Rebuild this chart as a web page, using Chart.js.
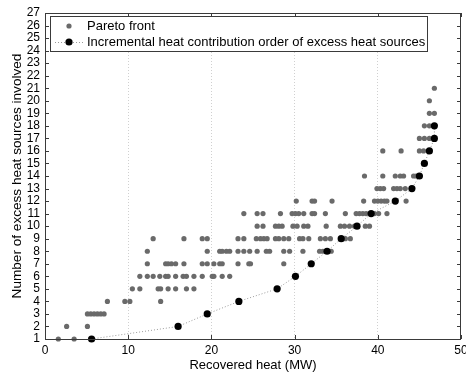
<!DOCTYPE html>
<html>
<head>
<meta charset="utf-8">
<script src="https://cdn.jsdelivr.net/npm/chart.js@4.4.1/dist/chart.umd.min.js"></script>
<style>
  html, body { margin: 0; padding: 0; background: #fff; }
  #wrap { width: 466px; height: 374px; }
</style>
</head>
<body>
<div id="wrap"><canvas id="myChart" width="466" height="374"></canvas></div>
<script>
// Pareto front solutions: recovered heat (MW) and number of sources used
const paretoHeat = [
  1.6, 3.5,
  2.6, 5.1,
  5.1, 5.5, 5.9, 6.3, 6.7, 7.1,
  7.5, 9.6, 10.2, 13.9,
  10.5, 11.4, 13.6, 13.9, 14.8, 15.7, 17.0, 17.9,
  11.4, 12.3, 13.0, 13.8, 14.5, 14.8, 15.7, 16.6, 17.0, 17.9, 18.9, 20.1, 20.3, 21.3, 22.2,
  12.3, 14.5, 14.8, 15.2, 15.7, 16.7, 18.9, 19.5, 20.3, 21.0, 21.3, 23.2, 24.5, 24.7, 28.7,
  12.3, 19.5, 21.0, 21.3, 21.8, 22.2, 23.2, 23.9, 24.6, 25.5, 26.6, 27.0, 28.7, 29.4, 31.0, 33.0, 33.4, 34.4,
  13.0, 16.7, 18.9, 19.5, 23.2, 23.9, 25.4, 25.9, 26.3, 26.7, 27.7, 28.1, 28.7, 29.3, 30.6, 31.0, 31.7, 33.1, 33.7, 34.3, 36.1, 36.7,
  25.5, 26.2, 27.7, 28.1, 28.5, 29.8, 30.3, 31.1, 31.6, 33.8, 35.5, 36.0, 36.6, 37.2, 38.5, 39.0,
  23.9, 25.5, 26.2, 28.3, 29.7, 30.1, 30.5, 31.1, 32.1, 32.4, 33.7, 36.1, 37.4, 37.8, 38.2, 38.6, 39.6, 40.1, 41.1,
  30.2, 32.1, 32.4, 34.5, 38.3, 39.6, 40.0, 40.4, 40.8, 41.1, 43.4,
  39.9, 40.3, 40.7, 41.9, 42.3, 42.7, 43.3,
  38.4, 40.6, 42.1, 42.7, 43.1, 44.3, 44.6,
  40.6, 42.8, 45.0, 45.5,
  45.0, 45.6, 46.2,
  45.6, 46.2,
  46.2, 46.8,
  46.2,
  46.8
];
const paretoSources = [
  1, 1,
  2, 2,
  3, 3, 3, 3, 3, 3,
  4, 4, 4, 4,
  5, 5, 5, 5, 5, 5, 5, 5,
  6, 6, 6, 6, 6, 6, 6, 6, 6, 6, 6, 6, 6, 6, 6,
  7, 7, 7, 7, 7, 7, 7, 7, 7, 7, 7, 7, 7, 7, 7,
  8, 8, 8, 8, 8, 8, 8, 8, 8, 8, 8, 8, 8, 8, 8, 8, 8, 8,
  9, 9, 9, 9, 9, 9, 9, 9, 9, 9, 9, 9, 9, 9, 9, 9, 9, 9, 9, 9, 9, 9,
  10, 10, 10, 10, 10, 10, 10, 10, 10, 10, 10, 10, 10, 10, 10, 10,
  11, 11, 11, 11, 11, 11, 11, 11, 11, 11, 11, 11, 11, 11, 11, 11, 11, 11, 11,
  12, 12, 12, 12, 12, 12, 12, 12, 12, 12, 12,
  13, 13, 13, 13, 13, 13, 13,
  14, 14, 14, 14, 14, 14, 14,
  16, 16, 16, 16,
  17, 17, 17,
  18, 18,
  19, 19,
  20,
  21
];

// sources added one by one in order of their heat contribution
const incrementalHeat = [5.6, 16.0, 19.5, 23.3, 27.9, 30.1, 32.0, 33.9, 35.6, 37.5, 39.2, 42.1, 44.1, 45.0, 45.6, 46.2, 46.8, 46.8];
const incrementalSources = [1, 2, 3, 4, 5, 6, 7, 8, 9, 10, 11, 12, 13, 14, 15, 16, 17, 18];

const xTicks = [0, 10, 20, 30, 40, 50];
const legendLabels = ['Pareto front', 'Incremental heat contribution order of excess heat sources'];

const FONT = '"Liberation Sans", Arial, Helvetica, sans-serif';
const AXIS_COLOR = '#3a3a3a';
const PARETO_COLOR = '#6a6a6a';

const toPoints = (xs, ys) => xs.map((x, i) => ({ x: x, y: ys[i] }));

// box round the plot with inward ticks on every side, MATLAB style
const frameTicks = {
  id: 'frameTicks',
  afterDatasetsDraw(chart) {
    const { ctx, chartArea: a, scales: { x, y } } = chart;
    ctx.save();
    ctx.strokeStyle = AXIS_COLOR;
    ctx.lineWidth = 1;
    ctx.beginPath();
    xTicks.forEach(v => {
      const px = Math.round(x.getPixelForValue(v)) + 0.5;
      ctx.moveTo(px, a.bottom); ctx.lineTo(px, a.bottom - 4);
      ctx.moveTo(px, a.top); ctx.lineTo(px, a.top + 4);
    });
    for (let v = y.min; v <= y.max; v++) {
      const py = Math.round(y.getPixelForValue(v)) + 0.5;
      ctx.moveTo(a.left, py); ctx.lineTo(a.left + 4, py);
      ctx.moveTo(a.right, py); ctx.lineTo(a.right - 4, py);
    }
    ctx.stroke();
    ctx.strokeRect(Math.round(a.left) + 0.5, Math.round(a.top) + 0.5,
      Math.round(a.right - a.left) - 1, Math.round(a.bottom - a.top));
    ctx.restore();
  }
};

// boxed legend sitting inside the top left corner of the plot
const boxLegend = {
  id: 'boxLegend',
  afterDraw(chart) {
    const { ctx, chartArea: a } = chart;
    const left = a.left + 5, top = a.top + 3, w = 377, h = 35;
    ctx.save();
    ctx.fillStyle = '#fff';
    ctx.fillRect(left, top, w, h);
    ctx.strokeStyle = AXIS_COLOR;
    ctx.lineWidth = 1;
    ctx.strokeRect(left + 0.5, top + 0.5, w, h);

    const mx = left + 19;
    const row1 = top + 10, row2 = top + 26;
    ctx.fillStyle = PARETO_COLOR;
    ctx.beginPath(); ctx.arc(mx, row1, 2.6, 0, Math.PI * 2); ctx.fill();

    ctx.strokeStyle = '#999';
    ctx.setLineDash([1, 2]);
    ctx.beginPath(); ctx.moveTo(mx - 14, row2 + 0.5); ctx.lineTo(mx + 14, row2 + 0.5); ctx.stroke();
    ctx.setLineDash([]);
    ctx.fillStyle = '#000';
    ctx.beginPath(); ctx.arc(mx, row2, 3.6, 0, Math.PI * 2); ctx.fill();

    ctx.fillStyle = '#000';
    ctx.font = '13px ' + FONT;
    ctx.textBaseline = 'middle';
    ctx.fillText(legendLabels[0], left + 37, row1);
    ctx.fillText(legendLabels[1], left + 37, row2);
    ctx.restore();
  }
};

const ctx = document.getElementById('myChart').getContext('2d');
new Chart(ctx, {
  type: 'scatter',
  data: {
    datasets: [
      {
        label: legendLabels[0],
        data: toPoints(paretoHeat, paretoSources),
        backgroundColor: PARETO_COLOR,
        borderWidth: 0,
        pointRadius: 2.6,
        clip: false,
        order: 2
      },
      {
        label: legendLabels[1],
        data: toPoints(incrementalHeat, incrementalSources),
        showLine: true,
        borderColor: '#9a9a9a',
        borderWidth: 1,
        borderDash: [1, 2],
        backgroundColor: '#000',
        pointBorderWidth: 0,
        pointRadius: 3.6,
        clip: false,
        order: 1
      }
    ]
  },
  plugins: [frameTicks, boxLegend],
  options: {
    responsive: false,
    animation: false,
    layout: { padding: { top: 13, right: 5, bottom: 0, left: 0 } },
    plugins: {
      legend: { display: false },
      tooltip: { enabled: false }
    },
    scales: {
      x: {
        type: 'linear',
        min: 0,
        max: 50,
        afterBuildTicks(scale) { scale.ticks = xTicks.map(v => ({ value: v })); },
        afterFit(scale) { scale.height = 35; scale.paddingLeft = 0; scale.paddingRight = 0; },
        grid: {
          drawTicks: false,
          color: c => (c.tick && (c.tick.value === 0 || c.tick.value === 50)) ? 'rgba(0,0,0,0)' : '#d0d0d0'
        },
        border: { display: false, dash: [1, 2] },
        ticks: { padding: 4, color: '#000', font: { family: FONT, size: 12 }, maxRotation: 0 },
        title: {
          display: true,
          text: 'Recovered heat (MW)',
          color: '#000',
          font: { family: FONT, size: 13 },
          padding: { top: 0, bottom: 1 }
        }
      },
      y: {
        type: 'linear',
        min: 1,
        max: 27,
        afterFit(scale) { scale.width = 45; scale.paddingTop = 0; scale.paddingBottom = 0; },
        grid: { display: false, drawTicks: false },
        border: { display: false },
        ticks: { stepSize: 1, padding: 5, color: '#000', font: { family: FONT, size: 12 }, autoSkip: false },
        title: {
          display: true,
          text: 'Number of excess heat sources involved',
          color: '#000',
          font: { family: FONT, size: 13.6 },
          padding: { top: 9, bottom: 0 }
        }
      }
    }
  }
});
</script>
</body>
</html>
